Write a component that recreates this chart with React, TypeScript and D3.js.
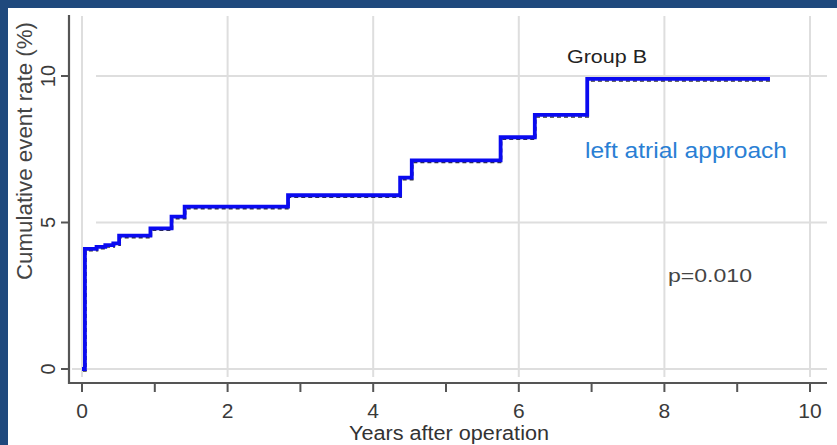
import React from "react";
import * as d3 from "d3";

const W = 837;
const H = 445;

// Kaplan-Meier style cumulative event curve (Group B, left atrial approach)
const eventYears = [0, 0.04, 0.2, 0.32, 0.43, 0.51, 0.94, 1.23, 1.41, 2.83, 4.37, 4.53, 5.75, 6.22, 6.94, 9.45];
const eventRates = [0, 4.1, 4.17, 4.23, 4.29, 4.55, 4.8, 5.2, 5.54, 5.93, 6.53, 7.12, 7.91, 8.67, 9.9, 9.9];

const xTicks = [0, 1, 2, 3, 4, 5, 6, 7, 8, 9, 10];
const xTickLabels = ["0", "", "2", "", "4", "", "6", "", "8", "", "10"];
const xGrid = [0, 2, 4, 6, 8, 10];
const yTicks = [0, 5, 10];
const yTickLabels = ["0", "5", "10"];

const xTitle = "Years after operation";
const yTitle = "Cumulative event rate (%)";
const groupLabel = "Group B";
const seriesLabel = "left atrial approach";
const pLabel = "p=0.010";

export default function App() {
  const x = d3.scaleLinear().domain([0, 10]).range([82, 810]);
  const y = d3.scaleLinear().domain([0, 10]).range([369, 76]);

  const pts: [number, number][] = eventYears.map((t, i) => [t, eventRates[i]]);
  const line = d3
    .line<[number, number]>()
    .x((d) => x(d[0]))
    .y((d) => y(d[1]))
    .curve(d3.curveStepAfter);
  const path = line(pts) || "";

  const axisColor = "#555";
  const gridColor = "#dedede";
  const font = "'Liberation Sans', Arial, sans-serif";

  return (
    <div style={{ position: "absolute", left: 0, top: 0, width: W, height: H }}>
      <svg width={W} height={H} style={{ display: "block" }} fontFamily={font}>
        <rect x={0} y={0} width={W} height={H} fill="#1f497d" />
        <rect x={8} y={8} width={W - 8} height={H - 8} fill="#ffffff" />

        {/* gridlines */}
        {xGrid.map((v) => (
          <line key={"gx" + v} x1={x(v)} x2={x(v)} y1={16} y2={377} stroke={gridColor} strokeWidth={2} />
        ))}
        {yTicks.map((v) => (
          <line key={"gy" + v} x1={v === 0 ? 72 : 96} x2={827} y1={y(v)} y2={y(v)} stroke={gridColor} strokeWidth={2} />
        ))}

        {/* axes */}
        <line x1={69} x2={69} y1={15} y2={384} stroke={axisColor} strokeWidth={2.2} />
        <line x1={68} x2={827} y1={383} y2={383} stroke={axisColor} strokeWidth={2.2} />
        {yTicks.map((v, i) => (
          <g key={"yt" + v}>
            <line x1={61} x2={69} y1={y(v)} y2={y(v)} stroke={axisColor} strokeWidth={2} />
            <text
              transform={`translate(55,${y(v)}) rotate(-90)`}
              textAnchor="middle"
              fontSize={20}
              fill="#3a3a3a"
            >
              {yTickLabels[i]}
            </text>
          </g>
        ))}
        {xTicks.map((v, i) => (
          <g key={"xt" + v}>
            <line x1={x(v)} x2={x(v)} y1={383} y2={392} stroke={axisColor} strokeWidth={2} />
            {xTickLabels[i] && (
              <text x={x(v)} y={418} textAnchor="middle" fontSize={21} fill="#3a3a3a">
                {xTickLabels[i]}
              </text>
            )}
          </g>
        ))}

        {/* titles */}
        <text x={449} y={440} textAnchor="middle" fontSize={20} fill="#333" textLength={200} lengthAdjust="spacingAndGlyphs">
          {xTitle}
        </text>
        <text
          transform={`translate(32,151) rotate(-90)`}
          textAnchor="middle"
          fontSize={22}
          fill="#444"
          textLength={258}
          lengthAdjust="spacingAndGlyphs"
        >
          {yTitle}
        </text>

        {/* curves */}
        <path d={path} fill="none" stroke="#333" strokeWidth={1.5} strokeDasharray="4 3" transform="translate(1,2)" />
        <path d={path} fill="none" stroke="#0a0af0" strokeWidth={3.8} strokeLinejoin="miter" />

        {/* annotations */}
        <text x={567} y={63} fontSize={18} fill="#222" textLength={80} lengthAdjust="spacingAndGlyphs">
          {groupLabel}
        </text>
        <text x={585} y={158} fontSize={22} fill="#2a7fd4" textLength={202} lengthAdjust="spacingAndGlyphs">
          {seriesLabel}
        </text>
        <text x={668} y={282} fontSize={19} fill="#444" textLength={84} lengthAdjust="spacingAndGlyphs">
          {pLabel}
        </text>
      </svg>
    </div>
  );
}
